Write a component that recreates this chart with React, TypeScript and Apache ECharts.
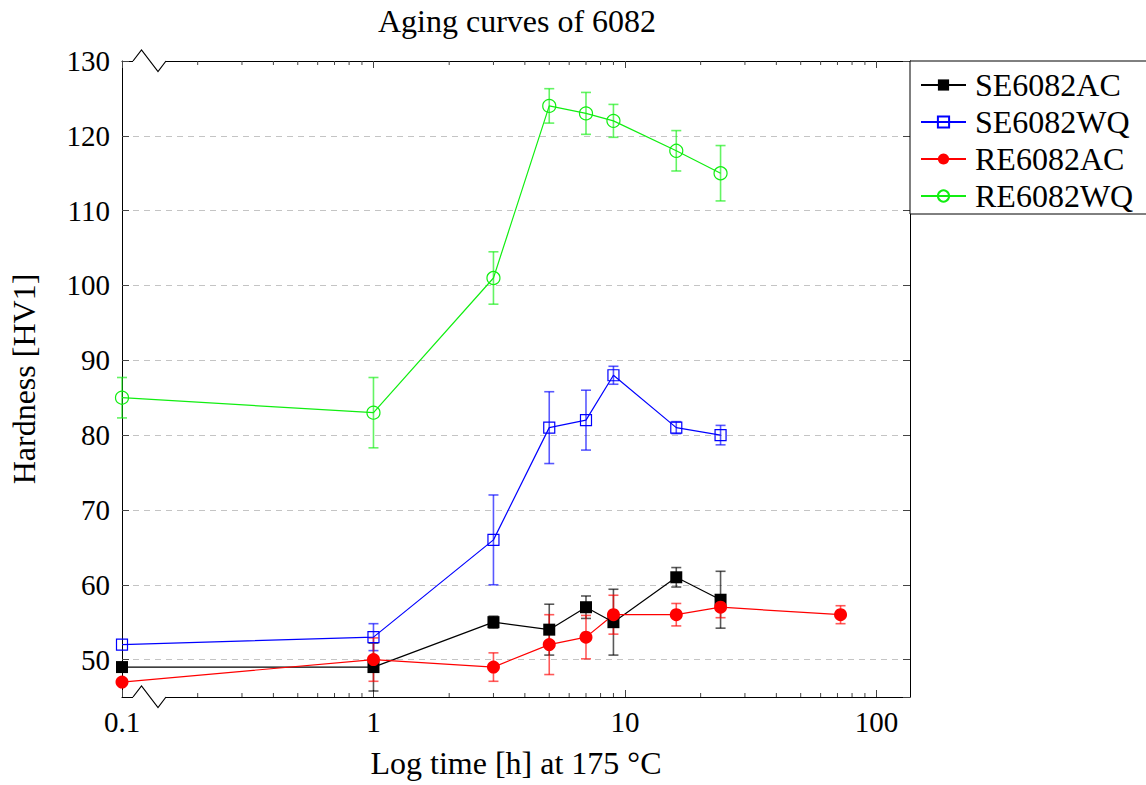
import React, { useEffect, useRef } from "react";
import * as echarts from "echarts";

const FONT = "'Liberation Serif', 'DejaVu Serif', serif";

const timesMain = [0.1, 1, 3, 5, 7, 9, 16, 24];
const timesREAC = [0.1, 1, 3, 5, 7, 9, 16, 24, 72];

const seAcValues = [49, 49, 55, 54, 57, 55, 61, 58];
const seAcErrors = [0, 3.2, 0.8, 3.4, 1.5, 4.4, 1.3, 3.8];

const seWqValues = [52, 53, 66, 81, 82, 88, 81, 80];
const seWqErrors = [0, 1.8, 6, 4.8, 4, 1.2, 0.8, 1.3];

const reAcValues = [47, 50, 49, 52, 53, 56, 56, 57, 56];
const reAcErrors = [0, 2.9, 1.9, 4, 2.9, 2.6, 1.5, 1.4, 1.2];

const reWqValues = [85, 83, 101, 124, 123, 122, 118, 115];
const reWqErrors = [2.7, 4.7, 3.5, 2.3, 2.8, 2.2, 2.7, 3.7];

const minorTickValues = [
  0.2, 0.3, 0.4, 0.5, 0.6, 0.7, 0.8, 0.9,
  2, 3, 4, 5, 6, 7, 8, 9,
  20, 30, 40, 50, 60, 70, 80, 90,
];

const X_MIN = 0.1;
const X_MAX = 136;
const Y_MIN = 45;
const Y_MAX = 130;

type SeriesDef = {
  name: string;
  color: string;
  times: number[];
  values: number[];
  errors: number[];
  symbol: string;
  size: number;
  filled: boolean;
};

const seriesDefs: SeriesDef[] = [
  { name: "SE6082AC", color: "#000000", times: timesMain, values: seAcValues, errors: seAcErrors, symbol: "rect", size: 12, filled: true },
  { name: "SE6082WQ", color: "#0000ff", times: timesMain, values: seWqValues, errors: seWqErrors, symbol: "rect", size: 11, filled: false },
  { name: "RE6082AC", color: "#ff0000", times: timesREAC, values: reAcValues, errors: reAcErrors, symbol: "circle", size: 13, filled: true },
  { name: "RE6082WQ", color: "#11ee11", times: timesMain, values: reWqValues, errors: reWqErrors, symbol: "circle", size: 13, filled: false },
];

export default function App() {
  const ref = useRef<HTMLDivElement>(null);

  useEffect(() => {
    document.body.style.margin = "0";
    const chart = echarts.init(ref.current!, null, { renderer: "svg" });

    const errorSeries = seriesDefs.map((d) => ({
      type: "custom",
      name: "err-" + d.name,
      clip: false,
      silent: true,
      z: 2,
      data: d.times
        .map((t, i) => [t, d.values[i] - d.errors[i], d.values[i] + d.errors[i], d.errors[i]])
        .filter((r) => r[3] > 0),
      renderItem: (params: any, api: any) => {
        const x = api.value(0);
        const lo = api.coord([x, api.value(1)]);
        const hi = api.coord([x, api.value(2)]);
        const cap = 5;
        const style = { stroke: d.color, lineWidth: 1.6, opacity: 0.65 };
        return {
          type: "group",
          children: [
            { type: "line", shape: { x1: lo[0], y1: lo[1], x2: hi[0], y2: hi[1] }, style },
            { type: "line", shape: { x1: lo[0] - cap, y1: lo[1], x2: lo[0] + cap, y2: lo[1] }, style },
            { type: "line", shape: { x1: hi[0] - cap, y1: hi[1], x2: hi[0] + cap, y2: hi[1] }, style },
          ],
        };
      },
    }));

    const lineSeries = seriesDefs.map((d) => ({
      type: "line",
      name: d.name,
      clip: false,
      z: 3,
      data: d.times.map((t, i) => [t, d.values[i]]),
      symbol: d.symbol,
      symbolSize: d.size,
      lineStyle: { color: d.color, width: 1.2 },
      itemStyle: d.filled
        ? { color: d.color }
        : { color: "rgba(255,255,255,0)", borderColor: d.color, borderWidth: 1.2 },
      emphasis: { disabled: true },
    }));

    const minorTicks = {
      type: "custom",
      name: "minor-ticks",
      clip: false,
      silent: true,
      z: 5,
      data: minorTickValues.map((v) => [v, 50]),
      renderItem: (params: any, api: any) => {
        const cs = params.coordSys;
        const p = api.coord([api.value(0), 50]);
        const style = { stroke: "#444", lineWidth: 1 };
        const bottom = cs.y + cs.height;
        return {
          type: "group",
          children: [
            { type: "line", shape: { x1: p[0], y1: bottom, x2: p[0], y2: bottom - 4 }, style },
            { type: "line", shape: { x1: p[0], y1: cs.y, x2: p[0], y2: cs.y + 4 }, style },
          ],
        };
      },
    };

    const zig = (yBase: number) => [
      [133, yBase],
      [141.5, yBase - 11],
      [158, yBase + 10.5],
      [166, yBase],
    ];

    const axisLineStyle = { color: "#000", width: 1 };

    chart.setOption({
      animation: false,
      backgroundColor: "#fff",
      textStyle: { fontFamily: FONT },
      grid: { left: 122, right: 236, top: 61, bottom: 88, containLabel: false },
      legend: {
        orient: "vertical",
        left: 910,
        top: 61,
        data: seriesDefs.map((d) => d.name),
        itemWidth: 45,
        itemHeight: 14,
        itemGap: 5,
        padding: [8, 14, 2, 10],
        borderColor: "#000",
        borderWidth: 1,
        borderRadius: 0,
        backgroundColor: "#fff",
        selectedMode: false,
        textStyle: { fontFamily: FONT, fontSize: 32, color: "#000", padding: [0, 0, 0, 4] },
      },
      xAxis: [
        {
          type: "log",
          logBase: 10,
          min: X_MIN,
          max: X_MAX,
          position: "bottom",
          name: "Log time [h] at 175 °C",
          nameLocation: "middle",
          nameGap: 50,
          nameTextStyle: { fontFamily: FONT, fontSize: 32, color: "#000" },
          axisLine: { lineStyle: axisLineStyle },
          axisTick: { inside: true, length: 7, lineStyle: { color: "#444" } },
          axisLabel: {
            fontFamily: FONT,
            fontSize: 29,
            color: "#000",
            margin: 10,
            showMaxLabel: false,
            formatter: (v: number) => String(+Number(v).toPrecision(3)),
          },
          splitLine: { show: false },
          minorTick: { show: false },
        },
        {
          type: "log",
          logBase: 10,
          min: X_MIN,
          max: X_MAX,
          position: "top",
          axisLine: { lineStyle: axisLineStyle },
          axisTick: { inside: true, length: 7, lineStyle: { color: "#444" } },
          axisLabel: { show: false },
          splitLine: { show: false },
        },
      ],
      yAxis: [
        {
          type: "value",
          min: Y_MIN,
          max: Y_MAX,
          splitNumber: 8,
          position: "left",
          name: "Hardness [HV1]",
          nameLocation: "middle",
          nameGap: 82,
          nameTextStyle: { fontFamily: FONT, fontSize: 32, color: "#000" },
          axisLine: { show: true, lineStyle: axisLineStyle },
          axisTick: { show: true, inside: true, length: 7, lineStyle: { color: "#444" } },
          axisLabel: { fontFamily: FONT, fontSize: 29, color: "#000", margin: 12, showMinLabel: false },
          splitLine: { show: true, lineStyle: { color: "#c4c4c4", type: [6, 5], width: 1 } },
        },
        {
          type: "value",
          min: Y_MIN,
          max: Y_MAX,
          splitNumber: 8,
          position: "right",
          axisLine: { show: true, lineStyle: axisLineStyle },
          axisTick: { show: true, inside: true, length: 7, lineStyle: { color: "#444" } },
          axisLabel: { show: false },
          splitLine: { show: false },
        },
      ],
      series: [...errorSeries, ...lineSeries, minorTicks],
      graphic: [
        {
          type: "text",
          x: 517,
          y: 21,
          style: {
            text: "Aging curves of 6082",
            fontFamily: FONT,
            fontSize: 32,
            fill: "#000",
            textAlign: "center",
            textVerticalAlign: "middle",
          },
          z: 10,
        },
        { type: "line", shape: { x1: 133, y1: 61, x2: 166, y2: 61 }, style: { stroke: "#fff", lineWidth: 3 }, z: 10 },
        { type: "polyline", shape: { points: zig(61) }, style: { stroke: "#000", lineWidth: 1.2, fill: null }, z: 11 },
        { type: "line", shape: { x1: 133, y1: 697, x2: 166, y2: 697 }, style: { stroke: "#fff", lineWidth: 3 }, z: 10 },
        { type: "polyline", shape: { points: zig(697) }, style: { stroke: "#000", lineWidth: 1.2, fill: null }, z: 11 },
      ],
    });

    return () => chart.dispose();
  }, []);

  return <div ref={ref} style={{ width: 1146, height: 785 }} />;
}
